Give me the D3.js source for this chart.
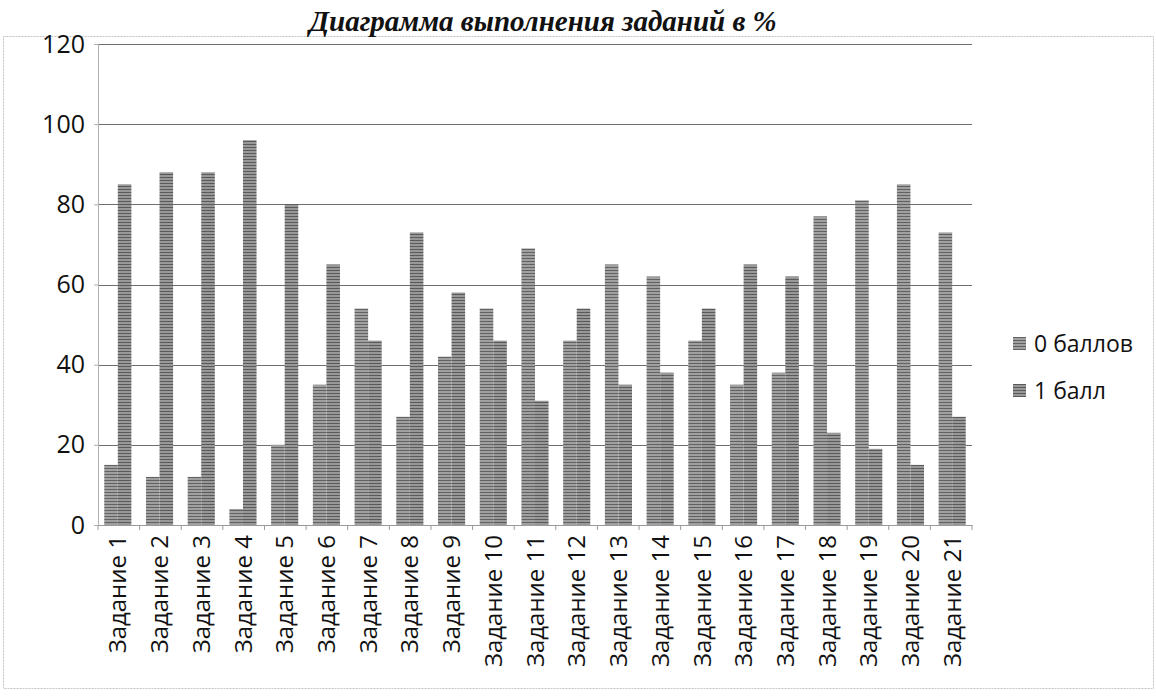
<!DOCTYPE html>
<html>
<head>
<meta charset="utf-8">
<script src="https://cdn.jsdelivr.net/npm/d3@7/dist/d3.min.js"></script>
<style>
  html, body { margin: 0; padding: 0; background: #fff; }
  svg { display: block; }
</style>
</head>
<body>
<svg id="chart" width="1156" height="697"></svg>
<script>
// ---- data ----
const categories = ["Задание 1","Задание 2","Задание 3","Задание 4","Задание 5","Задание 6","Задание 7",
  "Задание 8","Задание 9","Задание 10","Задание 11","Задание 12","Задание 13","Задание 14",
  "Задание 15","Задание 16","Задание 17","Задание 18","Задание 19","Задание 20","Задание 21"];
const seriesNames = ["0 баллов", "1 балл"];
const zeroPoints = [15, 12, 12, 4, 20, 35, 54, 27, 42, 54, 69, 46, 65, 62, 46, 35, 38, 77, 81, 85, 73];
const onePoint   = [85, 88, 88, 96, 80, 65, 46, 73, 58, 46, 31, 54, 35, 38, 54, 65, 62, 23, 19, 15, 27];
const yTicks = [0, 20, 40, 60, 80, 100, 120];
const titleText = "Диаграмма  выполнения заданий в %";

// ---- layout ----
const svg = d3.select("#chart");
const W = 1156, H = 697;
const plot = { left: 98, right: 972, top: 44, bottom: 525 };
const uiFont = "'Open Sans', 'Noto Sans', sans-serif";

// patterns (scanned grey hatching)
const defs = svg.append("defs");
const patColors = [["#a0a0a0", "#626262"], ["#989898", "#5a5a5a"]];
patColors.forEach((c, i) => {
  const p = defs.append("pattern").attr("id", "hatch" + i)
    .attr("patternUnits", "userSpaceOnUse").attr("width", 4).attr("height", 3);
  p.append("rect").attr("width", 4).attr("height", 3).attr("fill", c[0]);
  p.append("rect").attr("width", 4).attr("height", 1).attr("fill", c[1]);
});

// chart border (light, dotted like the scan)
svg.append("rect").attr("x", 3.5).attr("y", 36.5).attr("width", W - 6).attr("height", 652)
  .attr("fill", "none").attr("stroke", "#c4c4c4").attr("stroke-dasharray", "2,1");

// title
svg.append("text").attr("x", 543).attr("y", 31).attr("text-anchor", "middle")
  .attr("font-family", "'Liberation Serif', 'Times New Roman', serif")
  .attr("font-style", "italic").attr("font-weight", "bold").attr("font-size", 29)
  .attr("fill", "#111").text(titleText);

// scales
const x0 = d3.scaleBand().domain(categories).range([plot.left, plot.right]).paddingInner(0.35).paddingOuter(0.15);
const x1 = d3.scaleBand().domain(seriesNames).range([0, x0.bandwidth()]).padding(0);
const y = d3.scaleLinear().domain([0, 120]).range([plot.bottom, plot.top]);

// gridlines
svg.append("g").selectAll("line").data(yTicks.filter(t => t > 0)).join("line")
  .attr("x1", plot.left).attr("x2", plot.right)
  .attr("y1", d => Math.round(y(d)) + 0.5).attr("y2", d => Math.round(y(d)) + 0.5)
  .attr("stroke", "#6f6f6f").attr("stroke-width", 1);

// y axis
const yAxis = svg.append("g").attr("transform", `translate(${plot.left},0)`)
  .call(d3.axisLeft(y).tickValues(yTicks).tickSize(4).tickPadding(9));
yAxis.select(".domain").attr("stroke", "#b0b0b0");
yAxis.selectAll(".tick line").attr("stroke", "#b0b0b0");
yAxis.selectAll("text").attr("font-family", uiFont).attr("font-size", 25).attr("fill", "#111");

// bars
const data = categories.map((c, i) => ({ cat: c, vals: [zeroPoints[i], onePoint[i]] }));
const groups = svg.append("g").selectAll("g").data(data).join("g")
  .attr("transform", d => `translate(${x0(d.cat)},0)`);
groups.selectAll("rect").data(d => d.vals.map((v, k) => ({ k, v }))).join("rect")
  .attr("x", d => x1(seriesNames[d.k]))
  .attr("width", x1.bandwidth())
  .attr("y", d => y(d.v))
  .attr("height", d => y(0) - y(d.v))
  .attr("fill", d => `url(#hatch${d.k})`);

// x axis
const xAxis = svg.append("g").attr("transform", `translate(0,${plot.bottom})`)
  .call(d3.axisBottom(x0).tickSize(0).tickPadding(10));
xAxis.select(".domain").attr("stroke", "#9a9a9a");
xAxis.selectAll("text")
  .attr("font-family", uiFont).attr("font-size", 24).attr("fill", "#111")
  .attr("transform", "rotate(-90)")
  .attr("text-anchor", "end")
  .attr("x", -10).attr("y", 0).attr("dy", "0.36em");
// category separator ticks
svg.append("g").selectAll("line").data(d3.range(categories.length + 1)).join("line")
  .attr("x1", i => plot.left + i * (plot.right - plot.left) / categories.length)
  .attr("x2", i => plot.left + i * (plot.right - plot.left) / categories.length)
  .attr("y1", plot.bottom).attr("y2", plot.bottom + 5)
  .attr("stroke", "#9a9a9a");

// legend
const legend = svg.append("g").attr("transform", "translate(1013,337)");
seriesNames.forEach((name, i) => {
  const g = legend.append("g").attr("transform", `translate(0,${i * 47})`);
  g.append("rect").attr("width", 13).attr("height", 13).attr("fill", `url(#hatch${i})`);
  g.append("text").attr("x", 21).attr("y", 7).attr("dy", "0.36em")
    .attr("font-family", uiFont).attr("font-size", 23).attr("fill", "#111").text(name);
});
</script>
</body>
</html>
